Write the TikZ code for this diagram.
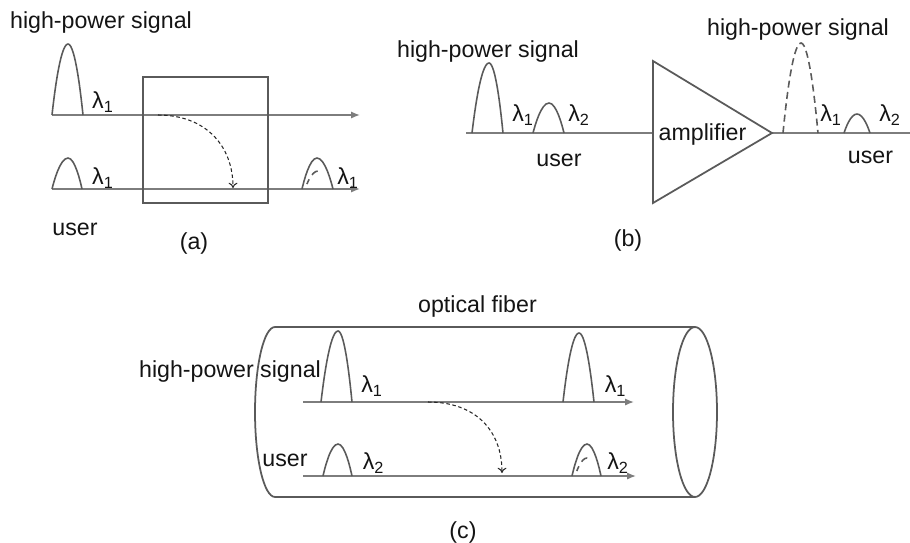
\documentclass[tikz,border=0pt]{standalone}
\usepackage{fontspec}
\setmainfont{Liberation Sans}
\usetikzlibrary{arrows.meta}
\definecolor{axc}{RGB}{125,125,125}
\definecolor{plc}{RGB}{90,90,90}
\definecolor{boxc}{RGB}{90,90,90}
\definecolor{txc}{RGB}{20,20,20}
\newcommand{\lamb}[1]{λ\textsubscript{#1}}
\tikzset{
  axis/.style={draw=axc, line width=0.85pt},
  axarrow/.style={axis, -{Latex[length=5pt,width=4pt]}},
  pulse/.style={draw=plc, line width=0.9pt},
  dpulse/.style={draw=plc, line width=0.9pt, dash pattern=on 4pt off 2.5pt},
  dinner/.style={draw=plc, line width=0.9pt, dash pattern=on 0pt off 3pt on 3pt off 3pt on 4pt off 20pt},
  dasharc/.style={draw=black!85, line width=0.6pt, dash pattern=on 2pt off 1.5pt, -{To[length=3pt,width=5pt]}},
  txt/.style={font=\fontsize{13.2}{15}\selectfont, text=txc, inner sep=0pt},
  outl/.style={draw=boxc, line width=1pt}
}
\begin{document}
\begin{tikzpicture}[x=0.02cm, y=-0.02cm]
\useasboundingbox (0,0) rectangle (910,542);

%% ---------------- (a)
\node[txt] (hpa) at (101,22) {high-power signal};
\coordinate (a1s) at (52,115); \coordinate (a1e) at (360,115);
\coordinate (a2s) at (52,189); \coordinate (a2e) at (360,189);
\draw[axarrow] (a1s) -- (a1e);
\draw[axarrow] (a2s) -- (a2e);
\node[outl, minimum width=2.5cm, minimum height=2.52cm, inner sep=0pt] (box) at (205.5,140) {};
\draw[pulse] (52,115) parabola bend (68,44) (83,115);
\draw[pulse] (52,189) parabola bend (68,158) (82,189);
\draw[pulse] (302,189) parabola bend (317,158) (333,189);
\draw[dinner] (305,189) parabola bend (318,171) (330,189);
\node[txt] (la1) at (103,102) {\lamb1};
\node[txt] (la2) at (103,178) {\lamb1};
\node[txt] (la3) at (348,178) {\lamb1};
\coordinate (arcA1) at (158,115); \coordinate (arcA2) at (233,188);
\draw[dasharc] (arcA1) .. controls (205,115) and (233,145) .. (arcA2);
\node[txt] (usera) at (75,229) {user};
\node[txt] (capa) at (194,243) {(a)};

%% ---------------- (b)
\node[txt] (hpb1) at (488,51) {high-power signal};
\coordinate (tA) at (653,61); \coordinate (tB) at (653,203); \coordinate (tC) at (772,133);
\coordinate (b1s) at (466,133); \coordinate (b1e) at (653,133);
\coordinate (b2e) at (910,133);
\draw[axis] (b1s) -- (b1e);
\draw[axis] (tC) -- (b2e);
\draw[outl, line join=miter] (tA) -- (tC) -- (tB) -- cycle;
\node[txt] (amp) at (702.5,134) {amplifier};
\draw[pulse] (472,133) parabola bend (489,63) (503,133);
\draw[pulse] (533,133) parabola bend (549,103) (564,133);
\node[txt] (lb1) at (523,115) {\lamb1};
\node[txt] (lb2) at (579,115) {\lamb2};
\node[txt] (userb1) at (559,160) {user};
\draw[dpulse] (783,133) parabola bend (801,43) (818,133);
\node[txt] (hpb2) at (798,29) {high-power signal};
\draw[pulse] (844,133) parabola bend (857,114) (870,133);
\node[txt] (lb3) at (831,115) {\lamb1};
\node[txt] (lb4) at (890,115) {\lamb2};
\node[txt] (userb2) at (870.5,157.5) {user};
\node[txt] (capb) at (628,240) {(b)};

%% ---------------- (c)
\node[txt] (ofib) at (477.5,306) {optical fiber};
\coordinate (cTL) at (275,327); \coordinate (cBL) at (275,497);
\coordinate (cTR) at (695,327); \coordinate (cBR) at (695,497);
\draw[outl] (cTR) -- (cTL) arc[start angle=90, end angle=270, x radius=0.4cm, y radius=1.7cm] -- (cBR);
\draw[outl] (695,412) ellipse [x radius=0.44cm, y radius=1.7cm];
\coordinate (c1s) at (303,402); \coordinate (c1e) at (634,402);
\coordinate (c2s) at (303,476); \coordinate (c2e) at (636,476);
\draw[axarrow] (c1s) -- (c1e);
\draw[axarrow] (c2s) -- (c2e);
\draw[pulse] (321,402) parabola bend (338,331) (352,402);
\draw[pulse] (563,402) parabola bend (579,333) (594,402);
\draw[pulse] (323,476) parabola bend (338,444) (352,476);
\draw[pulse] (572,476) parabola bend (587,444) (601,476);
\draw[dinner] (575,476) parabola bend (587,458) (599,476);
\node[txt] (hpc) at (230,371) {high-power signal};
\node[txt] (userc) at (285,460) {user};
\node[txt] (lc1) at (372,386) {\lamb1};
\node[txt] (lc2) at (615.5,386) {\lamb1};
\node[txt] (lc3) at (373.5,463) {\lamb2};
\node[txt] (lc4) at (618,463) {\lamb2};
\coordinate (arcC1) at (428,402); \coordinate (arcC2) at (502,473);
\draw[dasharc] (arcC1) .. controls (475,402) and (502,430) .. (arcC2);
\node[txt] (capc) at (463,532) {(c)};
\end{tikzpicture}
\end{document}
